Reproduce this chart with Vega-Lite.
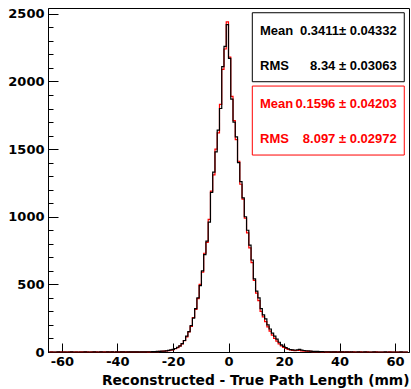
{
"$schema": "https://vega.github.io/schema/vega-lite/v6.json",
"width": 361, "height": 344,
"autosize": {"type": "none"},
"padding": {"left": 48, "top": 8, "right": 2, "bottom": 37},
"background": "white",
"config": {"view": {"stroke": "black", "strokeWidth": 1}},
"resolve": {"axis": {"y": "independent"}},
"datasets": {
"hist": [
{"x":-64.59,"b":0,"r":0},{"x":-63.78,"b":0,"r":1},{"x":-62.97,"b":0,"r":0},{"x":-62.16,"b":0,"r":0},{"x":-61.34,"b":1,"r":0},{"x":-60.53,"b":0,"r":1},{"x":-59.72,"b":0,"r":0},{"x":-58.91,"b":0,"r":1},{"x":-58.09,"b":0,"r":0},{"x":-57.28,"b":0,"r":1},
{"x":-56.47,"b":1,"r":1},{"x":-55.66,"b":0,"r":0},{"x":-54.84,"b":0,"r":1},{"x":-54.03,"b":0,"r":0},{"x":-53.22,"b":0,"r":1},{"x":-52.41,"b":0,"r":1},{"x":-51.59,"b":1,"r":1},{"x":-50.78,"b":0,"r":1},{"x":-49.97,"b":0,"r":0},{"x":-49.16,"b":0,"r":1},
{"x":-48.34,"b":1,"r":1},{"x":-47.53,"b":0,"r":1},{"x":-46.72,"b":0,"r":0},{"x":-45.91,"b":1,"r":1},{"x":-45.09,"b":0,"r":1},{"x":-44.28,"b":0,"r":1},{"x":-43.47,"b":1,"r":1},{"x":-42.66,"b":0,"r":1},{"x":-41.84,"b":1,"r":1},{"x":-41.03,"b":0,"r":0},
{"x":-40.22,"b":1,"r":1},{"x":-39.41,"b":0,"r":1},{"x":-38.59,"b":1,"r":1},{"x":-37.78,"b":1,"r":1},{"x":-36.97,"b":0,"r":1},{"x":-36.16,"b":1,"r":0},{"x":-35.34,"b":1,"r":1},{"x":-34.53,"b":1,"r":1},{"x":-33.72,"b":1,"r":1},{"x":-32.91,"b":1,"r":1},
{"x":-32.09,"b":1,"r":0},{"x":-31.28,"b":1,"r":1},{"x":-30.47,"b":1,"r":1},{"x":-29.66,"b":2,"r":2},{"x":-28.84,"b":2,"r":1},{"x":-28.03,"b":2,"r":2},{"x":-27.22,"b":3,"r":2},{"x":-26.41,"b":3,"r":3},{"x":-25.59,"b":4,"r":3},{"x":-24.78,"b":5,"r":4},
{"x":-23.97,"b":6,"r":5},{"x":-23.16,"b":7,"r":6},{"x":-22.34,"b":9,"r":8},{"x":-21.53,"b":12,"r":10},{"x":-20.72,"b":15,"r":13},{"x":-19.91,"b":19,"r":18},{"x":-19.09,"b":26,"r":24},{"x":-18.28,"b":35,"r":32},{"x":-17.47,"b":46,"r":44},{"x":-16.66,"b":62,"r":60},
{"x":-15.84,"b":85,"r":84},{"x":-15.03,"b":118,"r":112},{"x":-14.22,"b":150,"r":148},{"x":-13.41,"b":195,"r":190},{"x":-12.59,"b":250,"r":255},{"x":-11.78,"b":320,"r":315},{"x":-10.97,"b":400,"r":395},{"x":-10.16,"b":490,"r":500},{"x":-9.34,"b":600,"r":590},{"x":-8.53,"b":720,"r":730},
{"x":-7.72,"b":820,"r":810},{"x":-6.91,"b":960,"r":980},{"x":-6.09,"b":1180,"r":1190},{"x":-5.28,"b":1330,"r":1310},{"x":-4.47,"b":1480,"r":1500},{"x":-3.66,"b":1640,"r":1620},{"x":-2.84,"b":1800,"r":1830},{"x":-2.03,"b":2110,"r":2090},{"x":-1.22,"b":2260,"r":2240},{"x":-0.41,"b":2420,"r":2440},
{"x":0.41,"b":2170,"r":2180},{"x":1.22,"b":1870,"r":1890},{"x":2.03,"b":1700,"r":1710},{"x":2.84,"b":1590,"r":1570},{"x":3.66,"b":1400,"r":1410},{"x":4.47,"b":1260,"r":1240},{"x":5.28,"b":1140,"r":1130},{"x":6.09,"b":1000,"r":990},{"x":6.91,"b":900,"r":880},{"x":7.72,"b":790,"r":770},
{"x":8.53,"b":680,"r":660},{"x":9.34,"b":540,"r":530},{"x":10.16,"b":450,"r":435},{"x":10.97,"b":400,"r":380},{"x":11.78,"b":320,"r":300},{"x":12.59,"b":275,"r":260},{"x":13.41,"b":245,"r":225},{"x":14.22,"b":200,"r":185},{"x":15.03,"b":170,"r":155},{"x":15.84,"b":140,"r":125},
{"x":16.66,"b":117,"r":100},{"x":17.47,"b":95,"r":80},{"x":18.28,"b":72,"r":60},{"x":19.09,"b":52,"r":45},{"x":19.91,"b":42,"r":34},{"x":20.72,"b":32,"r":26},{"x":21.53,"b":24,"r":20},{"x":22.34,"b":18,"r":15},{"x":23.16,"b":15,"r":12},{"x":23.97,"b":13,"r":10},
{"x":24.78,"b":16,"r":11},{"x":25.59,"b":20,"r":12},{"x":26.41,"b":14,"r":9},{"x":27.22,"b":11,"r":7},{"x":28.03,"b":9,"r":6},{"x":28.84,"b":8,"r":5},{"x":29.66,"b":6,"r":4},{"x":30.47,"b":5,"r":3},{"x":31.28,"b":5,"r":3},{"x":32.09,"b":4,"r":2},
{"x":32.91,"b":3,"r":2},{"x":33.72,"b":3,"r":1},{"x":34.53,"b":2,"r":2},{"x":35.34,"b":2,"r":1},{"x":36.16,"b":2,"r":1},{"x":36.97,"b":1,"r":0},{"x":37.78,"b":1,"r":1},{"x":38.59,"b":1,"r":1},{"x":39.41,"b":0,"r":1},{"x":40.22,"b":1,"r":0},
{"x":41.03,"b":1,"r":1},{"x":41.84,"b":0,"r":1},{"x":42.66,"b":1,"r":0},{"x":43.47,"b":0,"r":1},{"x":44.28,"b":1,"r":0},{"x":45.09,"b":0,"r":1},{"x":45.91,"b":0,"r":0},{"x":46.72,"b":1,"r":0},{"x":47.53,"b":0,"r":1},{"x":48.34,"b":0,"r":0},
{"x":49.16,"b":1,"r":0},{"x":49.97,"b":0,"r":1},{"x":50.78,"b":0,"r":0},{"x":51.59,"b":0,"r":0},{"x":52.41,"b":1,"r":0},{"x":53.22,"b":0,"r":1},{"x":54.03,"b":0,"r":0},{"x":54.84,"b":0,"r":0},{"x":55.66,"b":0,"r":0},{"x":56.47,"b":1,"r":0},
{"x":57.28,"b":0,"r":0},{"x":58.09,"b":0,"r":1},{"x":58.91,"b":0,"r":0},{"x":59.72,"b":0,"r":0},{"x":60.53,"b":0,"r":0},{"x":61.34,"b":0,"r":0},{"x":62.16,"b":1,"r":0},{"x":62.97,"b":0,"r":0},{"x":63.78,"b":0,"r":0},{"x":64.59,"b":0,"r":0}
],
"stats": [
{"box":"black","labels":["Mean","RMS"],"vals":["0.3411± 0.04332","8.34 ± 0.03063"]},
{"box":"red","labels":["Mean","RMS"],"vals":["0.1596 ± 0.04203","8.097 ± 0.02972"]}
]
},
"layer": [
{
"data": {"name": "hist"},
"mark": {"type": "line", "interpolate": "step", "color": "#ff0000", "strokeWidth": 1.2},
"encoding": {
"x": {"field": "x", "type": "quantitative",
 "scale": {"domain": [-65, 65], "nice": false, "zero": false},
 "axis": {
  "values": [-60,-55,-50,-45,-40,-35,-30,-25,-20,-15,-10,-5,0,5,10,15,20,25,30,35,40,45,50,55,60],
  "tickSize": {"condition": {"test": "datum.value % 20 === 0", "value": -9}, "value": -5},
  "labelExpr": "datum.value % 20 === 0 ? '' + datum.value : ''",
  "labelFont": "DejaVu Sans", "labelFontWeight": "bold", "labelFontSize": 13, "labelColor": "black",
  "labelPadding": 12, "labelFlush": false, "labelOverlap": false,
  "domainColor": "black", "tickColor": "black", "grid": false,
  "title": "Reconstructed - True Path Length (mm)", "titleAnchor": "end",
  "titleFont": "DejaVu Sans", "titleFontWeight": "bold", "titleFontSize": 13.8, "titleColor": "black", "titlePadding": 5
 }},
"y": {"field": "r", "type": "quantitative",
 "scale": {"domain": [0, 2543], "nice": false, "zero": true},
 "axis": {
  "orient": "left",
  "values": [0,500,1000,1500,2000,2500],
  "tickSize": -10,
  "labelExpr": "'' + datum.value",
  "labelFont": "DejaVu Sans", "labelFontWeight": "bold", "labelColor": "black", "labelFontSize": 13,
  "labelPadding": 14, "labelFlush": false, "labelOverlap": false,
  "domainColor": "black", "tickColor": "black", "grid": false, "title": null
 }}
}
},
{
"data": {"name": "hist"},
"mark": {"type": "line", "interpolate": "step", "color": "black", "strokeWidth": 1.2},
"encoding": {
"x": {"field": "x", "type": "quantitative"},
"y": {"field": "b", "type": "quantitative",
 "axis": {
  "orient": "left",
  "values": [100,200,300,400,600,700,800,900,1100,1200,1300,1400,1600,1700,1800,1900,2100,2200,2300,2400],
  "tickSize": -5, "labels": false, "domain": false, "tickColor": "black", "grid": false, "title": null
 }}
}
},
{
"data": {"name": "stats"},
"transform": [{"filter": "datum.box === 'black'"}],
"mark": {"type": "rect", "fill": "white", "stroke": "black", "strokeWidth": 1},
"encoding": {
"x": {"datum": 8.57, "type": "quantitative"}, "x2": {"datum": 63.3},
"y": {"datum": 1998, "type": "quantitative", "axis": null}, "y2": {"datum": 2508}
}
},
{
"data": {"name": "stats"},
"transform": [{"filter": "datum.box === 'red'"}],
"mark": {"type": "rect", "fill": "white", "stroke": "#ff0000", "strokeWidth": 1},
"encoding": {
"x": {"datum": 8.57, "type": "quantitative"}, "x2": {"datum": 63.3},
"y": {"datum": 1456, "type": "quantitative", "axis": null}, "y2": {"datum": 1966}
}
},
{
"data": {"name": "stats"},
"transform": [{"filter": "datum.box === 'black'"}],
"mark": {"type": "text", "align": "left", "baseline": "alphabetic", "font": "Liberation Sans", "fontWeight": "bold", "fontSize": 13, "lineHeight": 35, "color": "black"},
"encoding": {"x": {"datum": 11.34, "type": "quantitative"}, "y": {"datum": 2343, "type": "quantitative", "axis": null}, "text": {"field": "labels"}}
},
{
"data": {"name": "stats"},
"transform": [{"filter": "datum.box === 'black'"}],
"mark": {"type": "text", "align": "right", "baseline": "alphabetic", "font": "Liberation Sans", "fontWeight": "bold", "fontSize": 13, "lineHeight": 35, "color": "black"},
"encoding": {"x": {"datum": 60.57, "type": "quantitative"}, "y": {"datum": 2343, "type": "quantitative", "axis": null}, "text": {"field": "vals"}}
},
{
"data": {"name": "stats"},
"transform": [{"filter": "datum.box === 'red'"}],
"mark": {"type": "text", "align": "left", "baseline": "alphabetic", "font": "Liberation Sans", "fontWeight": "bold", "fontSize": 13, "lineHeight": 35, "color": "#ff0000"},
"encoding": {"x": {"datum": 11.34, "type": "quantitative"}, "y": {"datum": 1804, "type": "quantitative", "axis": null}, "text": {"field": "labels"}}
},
{
"data": {"name": "stats"},
"transform": [{"filter": "datum.box === 'red'"}],
"mark": {"type": "text", "align": "right", "baseline": "alphabetic", "font": "Liberation Sans", "fontWeight": "bold", "fontSize": 13, "lineHeight": 35, "color": "#ff0000"},
"encoding": {"x": {"datum": 60.57, "type": "quantitative"}, "y": {"datum": 1804, "type": "quantitative", "axis": null}, "text": {"field": "vals"}}
}
]
}
